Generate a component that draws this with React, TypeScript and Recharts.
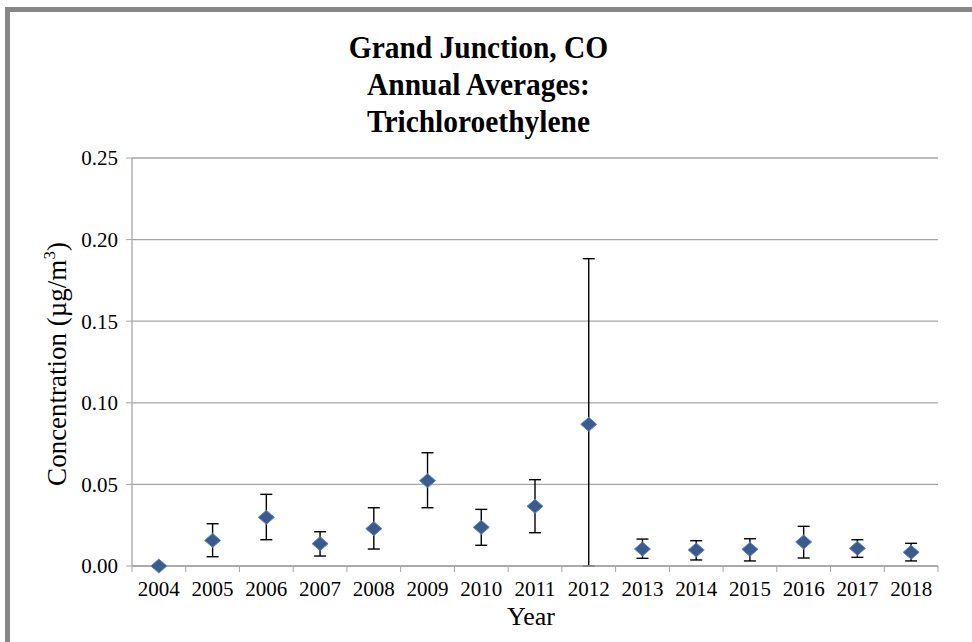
import { ComposedChart, Line, ErrorBar, XAxis, YAxis, CartesianGrid } from 'recharts'

const years = ['2004', '2005', '2006', '2007', '2008', '2009', '2010', '2011', '2012', '2013', '2014', '2015', '2016', '2017', '2018']
const means = [0, 0.0157, 0.0298, 0.0137, 0.0229, 0.0523, 0.0237, 0.0366, 0.0868, 0.0104, 0.0098, 0.0102, 0.0147, 0.0108, 0.0084]
const lows = [0, 0.0057, 0.0161, 0.0061, 0.0104, 0.0357, 0.0127, 0.0204, 0, 0.0047, 0.0037, 0.0031, 0.0049, 0.0053, 0.0031]
const highs = [0, 0.0259, 0.0439, 0.021, 0.0357, 0.0694, 0.0347, 0.0529, 0.1883, 0.0165, 0.0155, 0.0167, 0.0243, 0.0161, 0.0139]
const yTicks = [0, 0.05, 0.1, 0.15, 0.2, 0.25]

const data = years.map((year, i) => ({
  year,
  mean: means[i],
  err: highs[i] > 0 ? [means[i] - lows[i], highs[i] - means[i]] : null,
}))

const FONT = '"Liberation Serif", "Times New Roman", serif'
const GRID = '#a6a6a6'

// plot box
const PLOT_LEFT = 132
const PLOT_RIGHT = 938
const PLOT_TOP = 158
const PLOT_BOTTOM = 566
const HALF_BAND = (PLOT_RIGHT - PLOT_LEFT) / years.length / 2

function Diamond(props: any) {
  const { cx, cy, index } = props
  if (cx == null || cy == null) return null
  const w = 8, h = 7
  return (
    <polygon key={`d-${index}`}
      points={`${cx},${cy - h} ${cx + w},${cy} ${cx},${cy + h} ${cx - w},${cy}`}
      fill="#3c5b8d" stroke="#5b86c4" strokeWidth={1} />
  )
}

function YearTick(props: any) {
  const { x, payload, index, visibleTicksCount } = props
  const last = index === visibleTicksCount - 1
  return (
    <g>
      <line x1={x - HALF_BAND} x2={x - HALF_BAND} y1={PLOT_BOTTOM} y2={PLOT_BOTTOM + 6} stroke={GRID} />
      {last && <line x1={x + HALF_BAND} x2={x + HALF_BAND} y1={PLOT_BOTTOM} y2={PLOT_BOTTOM + 6} stroke={GRID} />}
      <text x={x} y={PLOT_BOTTOM + 30} textAnchor="middle" fontSize={21} fontFamily={FONT} fill="#000">
        {payload.value}
      </text>
    </g>
  )
}

export default function App() {
  return (
    <div style={{ position: 'absolute', left: 0, top: 0, width: 972, height: 642, background: '#fff', overflow: 'hidden' }}>
      <div style={{
        position: 'absolute', left: 5, top: 7, width: 980, height: 660,
        borderTop: '5px solid #878787', borderLeft: '5px solid #878787',
      }} />
      <div style={{
        position: 'absolute', left: 0, top: 29, width: 957, textAlign: 'center',
        fontFamily: FONT, fontWeight: 'bold', fontSize: 31, lineHeight: '37px', color: '#000',
        transform: 'scaleX(0.95)', transformOrigin: '478px 0',
      }}>
        <div>Grand Junction, CO</div>
        <div>Annual Averages:</div>
        <div>Trichloroethylene</div>
      </div>
      <div style={{
        position: 'absolute', left: 57, top: 364, width: 0, height: 0,
      }}>
        <div style={{
          position: 'absolute', left: 0, top: 0, transform: 'translate(-50%, -50%) rotate(-90deg)',
          whiteSpace: 'nowrap', fontFamily: FONT, fontSize: 27, color: '#000', lineHeight: '30px',
        }}>
          Concentration (µg/m<sup style={{ fontSize: 17, verticalAlign: 'top', lineHeight: '17px', position: 'relative', top: -1 }}>3</sup>)
        </div>
      </div>
      <div style={{
        position: 'absolute', left: 531, top: 603, transform: 'translateX(-50%)',
        fontFamily: FONT, fontSize: 26, color: '#000', lineHeight: '28px',
      }}>
        Year
      </div>
      <div style={{ position: 'absolute', left: 0, top: 0 }}>
        <ComposedChart width={972} height={642} data={data}
          margin={{ top: PLOT_TOP, right: 972 - PLOT_RIGHT, left: PLOT_LEFT - 60, bottom: 642 - PLOT_BOTTOM - 40 }}>
          <CartesianGrid horizontal vertical={false} stroke={GRID} strokeWidth={1.3} />
          <XAxis dataKey="year" type="category" scale="point" height={40}
            padding={{ left: HALF_BAND, right: HALF_BAND }}
            axisLine={{ stroke: GRID, strokeWidth: 1.3 }} tickLine={false}
            interval={0} tick={<YearTick />} />
          <YAxis width={60} domain={[0, 0.25]} ticks={yTicks}
            tickFormatter={(v: number) => v.toFixed(2)}
            axisLine={{ stroke: GRID, strokeWidth: 1.3 }} tickLine={{ stroke: GRID }} tickSize={6} tickMargin={8}
            tick={{ fill: '#000', fontSize: 21, fontFamily: FONT }} />
          <Line dataKey="mean" stroke="none" isAnimationActive={false} dot={<Diamond />} activeDot={false}>
            <ErrorBar dataKey="err" direction="y" width={6} stroke="#000" strokeWidth={1.4} isAnimationActive={false} />
          </Line>
        </ComposedChart>
      </div>
    </div>
  )
}
